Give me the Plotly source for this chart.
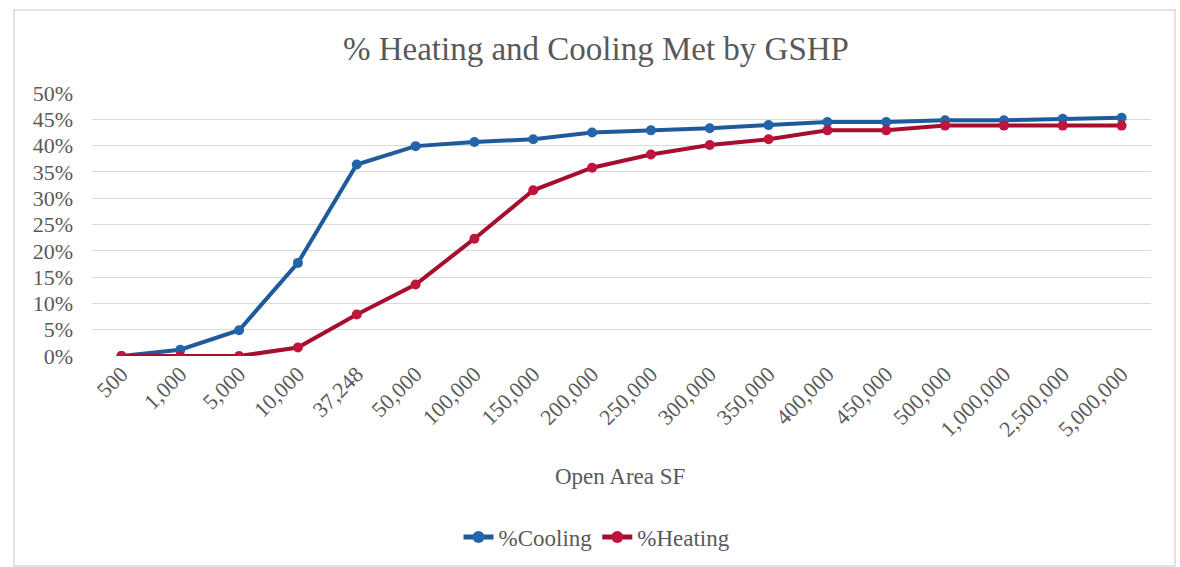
import plotly.graph_objects as go

categories = ["500", "1,000", "5,000", "10,000", "37,248", "50,000", "100,000", "150,000",
              "200,000", "250,000", "300,000", "350,000", "400,000", "450,000", "500,000",
              "1,000,000", "2,500,000", "5,000,000"]
cooling = [0.000, 0.012, 0.049, 0.177, 0.364, 0.399, 0.407, 0.412, 0.425, 0.429, 0.433,
           0.439, 0.445, 0.445, 0.448, 0.448, 0.451, 0.453]
heating = [0.000, 0.000, 0.000, 0.016, 0.079, 0.136, 0.223, 0.315, 0.358, 0.383, 0.401,
           0.412, 0.429, 0.429, 0.438, 0.438, 0.438, 0.438]

FONT = "Liberation Serif"
GREY = "#595959"

fig = go.Figure()
fig.add_trace(go.Scatter(
    x=categories, y=cooling, name="%Cooling", mode="lines+markers",
    line=dict(color="#1F5A9B", width=4),
    marker=dict(color="#2464AA", size=10),
))
fig.add_trace(go.Scatter(
    x=categories, y=heating, name="%Heating", mode="lines+markers",
    line=dict(color="#A50E2D", width=4),
    marker=dict(color="#C0143C", size=10),
))

fig.update_layout(
    width=1180, height=567,
    margin=dict(l=92, r=29, t=93, b=211, autoexpand=False),
    paper_bgcolor="white", plot_bgcolor="white",
    font=dict(family=FONT, color=GREY, size=22),
    title=dict(text="% Heating and Cooling Met by GSHP", x=596 / 1180, xanchor="center",
               xref="container", y=(567 - 48) / 567, yanchor="middle", yref="container",
               font=dict(family=FONT, size=33, color=GREY)),
    showlegend=True,
    legend=dict(orientation="h", xref="container", yref="container",
                x=597 / 1180, xanchor="center", y=(567 - 537) / 567, yanchor="middle",
                font=dict(family=FONT, size=23, color=GREY), traceorder="normal",
                itemsizing="constant"),
    xaxis=dict(type="category", range=[-0.5, len(categories) - 0.5], showgrid=False,
               showline=False, zeroline=False, tickangle=-45, ticks="", automargin=False,
               tickfont=dict(family=FONT, size=22, color=GREY)),
    yaxis=dict(range=[0, 0.5], dtick=0.05, tickformat=".0%", showgrid=True,
               gridcolor="#D9D9D9", gridwidth=1, zeroline=False, showline=False,
               ticks="", ticklabelstandoff=18, automargin=False,
               tickfont=dict(family=FONT, size=22, color=GREY)),
    annotations=[dict(text="Open Area SF", xref="paper", yref="paper", x=0.499, y=-0.46,
                      xanchor="center", yanchor="middle", showarrow=False,
                      font=dict(family=FONT, size=23, color=GREY))],
    shapes=[dict(type="rect", xref="paper", yref="paper",
                 x0=(14 - 92) / 1059, x1=(1175 - 92) / 1059,
                 y0=(356 - 566) / 263, y1=(356 - 10) / 263,
                 line=dict(color="#D9D9D9", width=1.5), layer="below")],
)

fig.write_html("out.html", config={"displayModeBar": False},
               post_script="document.body.style.margin='0';")
